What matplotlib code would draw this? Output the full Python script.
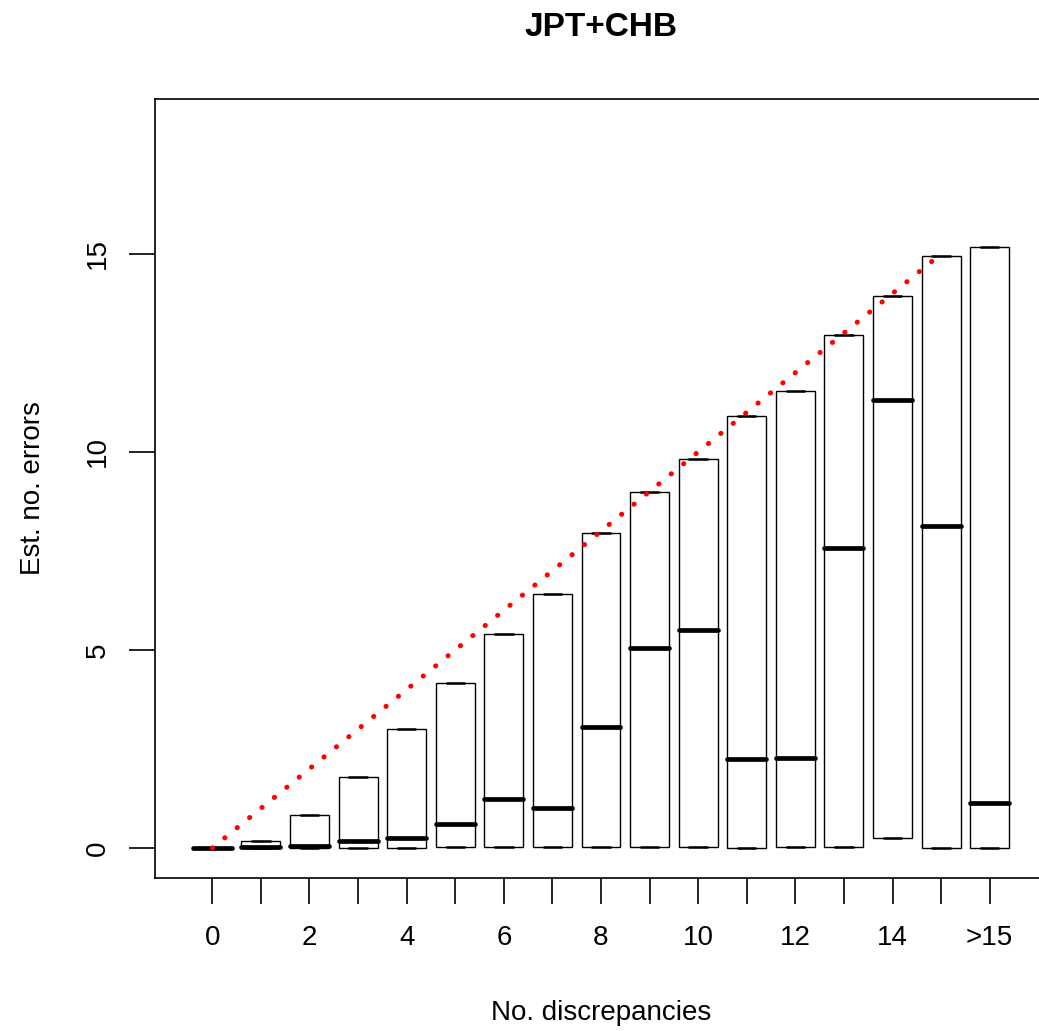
import matplotlib
matplotlib.use("Agg")
import matplotlib.pyplot as plt
import numpy as np

plt.rcParams['font.family'] = ['Liberation Sans', 'DejaVu Sans']

# ── data ───────────────────────────────────────────────────────────────────
POS = np.arange(17)
TICK_LABELS = [str(i) for i in range(16)] + ['>15']
LOWER = [0.0, 0.0, 0.0, 0.0, 0.0, 0.02, 0.02, 0.02, 0.03, 0.03, 0.03,
         0.0, 0.03, 0.02, 0.24, 0.01, 0.0]
UPPER = [0.0, 0.18, 0.83, 1.79, 3.0, 4.17, 5.4, 6.41, 7.95, 8.99, 9.82,
         10.9, 11.54, 12.95, 13.94, 14.95, 15.18]
MEDIAN = [0.0, 0.02, 0.05, 0.17, 0.24, 0.61, 1.24, 1.01, 3.06, 5.05, 5.5,
          2.25, 2.28, 7.58, 11.31, 8.13, 1.14]
DIAG_X = [0, 15]
DIAG_Y = [0, 15]

W, H, DPI = 1039, 1031, 100
fig = plt.figure(figsize=(W / DPI, H / DPI), dpi=DPI)
# plot region: left 155px, right beyond the canvas (cropped), top 99px, bottom 878px
ax = fig.add_axes([155 / W, 1 - 878 / H, (1047 - 155) / W, (878 - 99) / H])

BOXW = 0.8
LW = 1.0

# boxes
ax.bar(POS, np.array(UPPER) - np.array(LOWER), bottom=LOWER, width=BOXW,
       fill=False, edgecolor='black', linewidth=LW, zorder=2)
# staples (whiskers coincide with box ends)
ax.hlines(UPPER, POS - BOXW / 4, POS + BOXW / 4, color='black', lw=1.8, zorder=3)
ax.hlines(LOWER, POS - BOXW / 4, POS + BOXW / 4, color='black', lw=1.8, zorder=3)
# medians
med = ax.hlines(MEDIAN, POS - BOXW / 2, POS + BOXW / 2, color='black', lw=3.4, zorder=4)
med.set_capstyle('round')

# red dotted diagonal
ax.plot(DIAG_X, DIAG_Y, color='red', lw=3.6,
        linestyle=(0, (0.05, 3.15)), dash_capstyle='round', zorder=5)

ax.set_xlim(-1.18, 17.18)
ax.set_ylim(-0.758, 18.91)

ax.set_xticks(POS)
ax.set_xticklabels([t if i % 2 == 0 else '' for i, t in enumerate(TICK_LABELS)],
                   fontsize=20)
ax.set_yticks([0, 5, 10, 15])
ax.set_yticklabels(['0', '5', '10', '15'], fontsize=20, rotation=90, va='center')
ax.tick_params(axis='both', direction='out', length=19, width=1.2, color='black')
ax.tick_params(axis='x', pad=15)
ax.tick_params(axis='y', pad=13)

for s in ax.spines.values():
    s.set_linewidth(1.2)

ax.set_xlabel('No. discrepancies', fontsize=20, labelpad=35)
ax.set_ylabel('Est. no. errors', fontsize=20, labelpad=28)
fig.text(601 / W, 1 - 27 / H, 'JPT+CHB', fontsize=24, fontweight='bold',
         ha='center', va='center')

fig.savefig('out.png', dpi=DPI)
